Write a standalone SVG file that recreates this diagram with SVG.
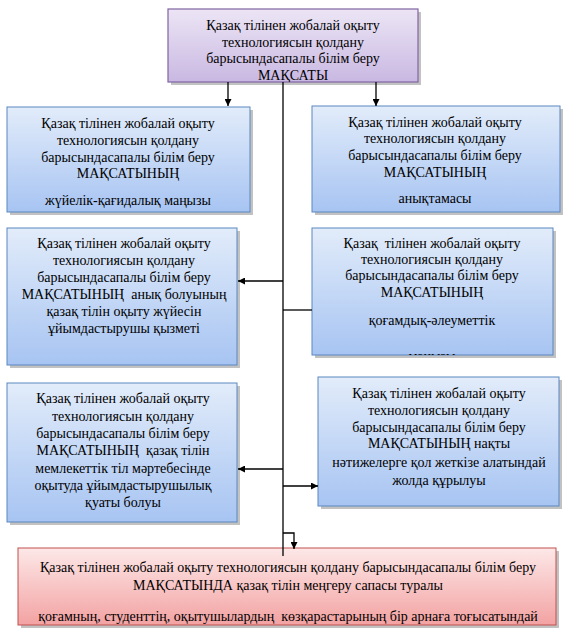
<svg xmlns="http://www.w3.org/2000/svg" width="571" height="630" viewBox="0 0 571 630">
<style>
text{font-family:"Liberation Serif","Times New Roman","DejaVu Serif",serif;font-size:14px;fill:#000;text-anchor:middle}
.blue{fill:url(#gb);stroke:#5b87c0;stroke-width:1}
.pur{fill:url(#gp);stroke:#8064a2;stroke-width:1.2}
.red{fill:url(#gr);stroke:#c0504d;stroke-width:1}
.sh{fill:#9a9a9a;opacity:0.6}
.ln{stroke:#000;stroke-width:1.3;fill:none}
</style>
<defs>
<linearGradient id="gb" x1="0" y1="0" x2="0" y2="1"><stop offset="0" stop-color="#e2ecfa"/><stop offset="1" stop-color="#a7c4f2"/></linearGradient>
<linearGradient id="gp" x1="0" y1="0" x2="0" y2="1"><stop offset="0" stop-color="#ece5f5"/><stop offset="1" stop-color="#c9b8e2"/></linearGradient>
<linearGradient id="gr" x1="0" y1="0" x2="0" y2="1"><stop offset="0" stop-color="#fde8e8"/><stop offset="1" stop-color="#f3a2a2"/></linearGradient>
<marker id="ar" viewBox="0 0 10 10" refX="10" refY="5" markerWidth="8" markerHeight="7" markerUnits="userSpaceOnUse" orient="auto"><path d="M0,0 L10,5 L0,10 z" fill="#000"/></marker>
<clipPath id="c0"><rect x="168" y="9" width="250" height="73"/></clipPath>
<clipPath id="c4"><rect x="312" y="228" width="241" height="127"/></clipPath>
<clipPath id="c7"><rect x="18" y="548" width="538" height="77"/></clipPath>
</defs>

<g id="top" font-family="Liberation Serif, serif">
<rect class="sh" x="171" y="12" width="250" height="73"/>
<rect class="pur" x="168" y="9" width="250" height="73"/>
<g clip-path="url(#c0)">
<text x="293" y="30">Қазақ тілінен жобалай оқыту</text>
<text x="293" y="47">технологиясын қолдану</text>
<text x="293" y="63">барысындасапалы білім беру</text>
<text x="293" y="80">МАҚСАТЫ</text>
</g>
</g>

<g id="l1">
<rect class="sh" x="10" y="110" width="243" height="105"/>
<rect class="blue" x="7" y="107" width="243" height="105"/>
<text x="128" y="128">Қазақ тілінен жобалай оқыту</text>
<text x="128" y="145">технологиясын қолдану</text>
<text x="128" y="162">барысындасапалы білім беру</text>
<text x="128" y="178">МАҚСАТЫНЫҢ</text>
<text x="128" y="205">жүйелік-қағидалық маңызы</text>
</g>

<g id="r1">
<rect class="sh" x="315" y="109" width="248" height="106"/>
<rect class="blue" x="312" y="106" width="248" height="106"/>
<text x="435" y="127">Қазақ тілінен жобалай оқыту</text>
<text x="435" y="143">технологиясын қолдану</text>
<text x="435" y="160">барысындасапалы білім беру</text>
<text x="435" y="177">МАҚСАТЫНЫҢ</text>
<text x="435" y="203">анықтамасы</text>
</g>

<g id="l2">
<rect class="sh" x="10" y="231" width="230" height="137"/>
<rect class="blue" x="7" y="228" width="230" height="137"/>
<text x="124" y="248">Қазақ тілінен жобалай оқыту</text>
<text x="124" y="265">технологиясын қолдану</text>
<text x="124" y="282">барысындасапалы білім беру</text>
<text x="124" y="299" xml:space="preserve">МАҚСАТЫНЫҢ  анық болуының</text>
<text x="124" y="316">қазақ тілін оқыту жүйесін</text>
<text x="124" y="333">ұйымдастырушы қызметі</text>
</g>

<g id="r2">
<rect class="sh" x="315" y="231" width="241" height="127"/>
<rect class="blue" x="312" y="228" width="241" height="127"/>
<g clip-path="url(#c4)">
<text x="432" y="248" xml:space="preserve">Қазақ  тілінен жобалай оқыту</text>
<text x="432" y="264">технологиясын қолдану</text>
<text x="432" y="280">барысындасапалы білім беру</text>
<text x="432" y="297">МАҚСАТЫНЫҢ</text>
<text x="432" y="325">қоғамдық-әлеуметтік</text>
<text x="432" y="361">маңызы</text>
</g>
</g>

<g id="l3">
<rect class="sh" x="10" y="386" width="230" height="139"/>
<rect class="blue" x="7" y="383" width="230" height="139"/>
<text x="123" y="403">Қазақ тілінен жобалай оқыту</text>
<text x="123" y="421">технологиясын қолдану</text>
<text x="123" y="438">барысындасапалы білім беру</text>
<text x="123" y="455" xml:space="preserve">МАҚСАТЫНЫҢ  қазақ тілін</text>
<text x="123" y="473">мемлекеттік тіл мәртебесінде</text>
<text x="123" y="490">оқытуда ұйымдастырушылық</text>
<text x="123" y="507">қуаты болуы</text>
</g>

<g id="r3">
<rect class="sh" x="321" y="380" width="241" height="129"/>
<rect class="blue" x="318" y="377" width="241" height="129"/>
<text x="439" y="398">Қазақ тілінен жобалай оқыту</text>
<text x="439" y="415">технологиясын қолдану</text>
<text x="439" y="432">барысындасапалы білім беру</text>
<text x="439" y="448">МАҚСАТЫНЫҢ нақты</text>
<text x="439" y="467">нәтижелерге қол жеткізе алатындай</text>
<text x="439" y="485">жолда құрылуы</text>
</g>

<g id="bottom">
<rect class="sh" x="21" y="551" width="538" height="77"/>
<rect class="red" x="18" y="548" width="538" height="77"/>
<g clip-path="url(#c7)">
<text x="288" y="572">Қазақ тілінен жобалай оқыту технологиясын қолдану барысындасапалы білім беру</text>
<text x="288" y="590">МАҚСАТЫНДА қазақ тілін меңгеру сапасы туралы</text>
<text x="288" y="621" xml:space="preserve">қоғамның, студенттің, оқытушылардың  көзқарастарының бір арнаға тоғысатындай</text>
</g>
</g>

<g id="connectors">
<line class="ln" x1="228" y1="82" x2="228" y2="106" marker-end="url(#ar)"/>
<line class="ln" x1="376" y1="82" x2="376" y2="106" marker-end="url(#ar)"/>
<line class="ln" x1="283" y1="82" x2="283" y2="556"/>
<line class="ln" x1="283" y1="281" x2="238" y2="281" marker-end="url(#ar)"/>
<line class="ln" x1="283" y1="310" x2="312" y2="310"/>
<line class="ln" x1="283" y1="469" x2="238" y2="469" marker-end="url(#ar)"/>
<line class="ln" x1="283" y1="486" x2="318" y2="486" marker-end="url(#ar)"/>
<polyline class="ln" points="283,533 294,533 294,549" marker-end="url(#ar)"/>
</g>
</svg>
